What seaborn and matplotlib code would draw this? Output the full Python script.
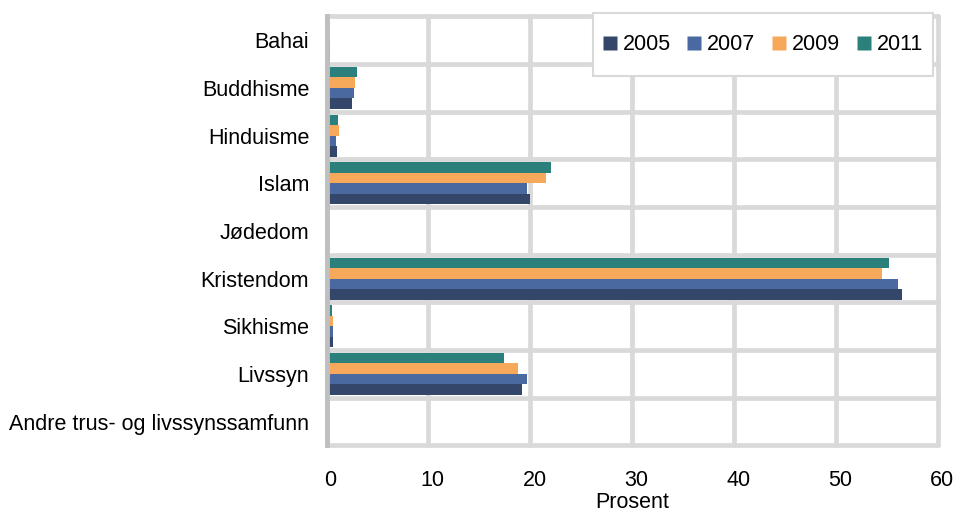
import pandas as pd
import matplotlib
matplotlib.use("Agg")
import matplotlib.pyplot as plt
from matplotlib.lines import Line2D
from matplotlib.patches import Rectangle
import matplotlib.transforms as mtransforms
import seaborn as sns

categories = ["Bahai", "Buddhisme", "Hinduisme", "Islam", "Jødedom",
              "Kristendom", "Sikhisme", "Livssyn", "Andre trus- og livssynssamfunn"]
years = ["2005", "2007", "2009", "2011"]
v2005 = [0.3, 2.5, 1.0, 20.0, 0.05, 56.4, 0.6, 19.2, 0.05]
v2007 = [0.3, 2.7, 0.95, 19.7, 0.05, 56.0, 0.6, 19.7, 0.05]
v2009 = [0.15, 2.8, 1.2, 21.5, 0.1, 54.5, 0.6, 18.8, 0.05]
v2011 = [0.05, 3.0, 1.15, 22.0, 0.05, 55.2, 0.55, 17.4, 0.1]
colors = {"2005": "#34476b", "2007": "#4a69a0", "2009": "#f6a95b", "2011": "#2b807c"}

rows = []
for yr, vals in zip(years, [v2005, v2007, v2009, v2011]):
    for cat, v in zip(categories, vals):
        rows.append({"Kategori": cat, "År": yr, "Prosent": v})
df = pd.DataFrame(rows)

sns.set_style("white")
plt.rcParams["font.family"] = ["Liberation Sans", "DejaVu Sans"]
plt.rcParams["text.color"] = "black"
plt.rcParams["xtick.color"] = "black"
plt.rcParams["ytick.color"] = "black"
plt.rcParams["axes.labelcolor"] = "black"

fs = 15.5
fig = plt.figure(figsize=(9.59, 5.12), dpi=100)
ax = fig.add_axes([0.3405, 0.130, 0.6379, 0.838])

sns.barplot(data=df, y="Kategori", x="Prosent", hue="År",
            order=categories, hue_order=years[::-1], palette=colors,
            saturation=1, orient="h", width=0.88, gap=0, edgecolor="none",
            ax=ax, legend=False, zorder=2)

ax.set_xlim(0, 60)
ax.set_ylim(len(categories) - 0.5, -0.5)
ax.set_xticks(range(0, 61, 10))
ax.set_yticks(range(len(categories)))
ax.set_yticks([i - 0.5 for i in range(len(categories) + 1)], minor=True)
ax.set_axisbelow(True)
ax.grid(axis="x", which="major", color="#d9d9d9", linewidth=3.4)
ax.grid(axis="y", which="minor", color="#d9d9d9", linewidth=3.4)
ax.grid(axis="y", which="major", visible=False)

for s in ["top", "right", "bottom"]:
    ax.spines[s].set_visible(False)
ax.spines["left"].set_color("#bfbfbf")
ax.spines["left"].set_linewidth(3.5)
ax.spines["left"].set_zorder(3)

ax.tick_params(axis="both", which="both", length=0)
ax.tick_params(axis="x", labelsize=fs, pad=17.5)
ax.tick_params(axis="y", labelsize=fs, pad=12.5)
ax.set_ylabel("")
ax.set_xlabel("Prosent", fontsize=fs, labelpad=1)

shift = mtransforms.ScaledTranslation(4 / 100, 0, fig.dpi_scale_trans)
for lbl in ax.get_xticklabels():
    lbl.set_transform(lbl.get_transform() + shift)

for t in ax.xaxis.get_major_ticks() + ax.yaxis.get_minor_ticks():
    t.gridline.set_clip_on(False)

# legend box
box = (0.436, 0.86, 0.991, 1.007)
ax.add_patch(Rectangle((box[0], box[1]), box[2] - box[0], box[3] - box[1],
                       transform=ax.transAxes, facecolor="white", edgecolor="#d9d9d9",
                       linewidth=1.5, clip_on=False, zorder=4))
handles = [Line2D([0], [0], marker="s", linestyle="none", markersize=9.4,
                  markerfacecolor=colors[y], markeredgecolor="none") for y in years]
leg = ax.legend(handles, years, loc="center",
                bbox_to_anchor=((box[0] + box[2]) / 2, (box[1] + box[3]) / 2),
                ncol=4, fontsize=fs, frameon=False, borderpad=0,
                handlelength=0.63, handletextpad=0.29, columnspacing=0.78,
                borderaxespad=0)
leg.set_zorder(5)

fig.savefig("out.png", dpi=100)
